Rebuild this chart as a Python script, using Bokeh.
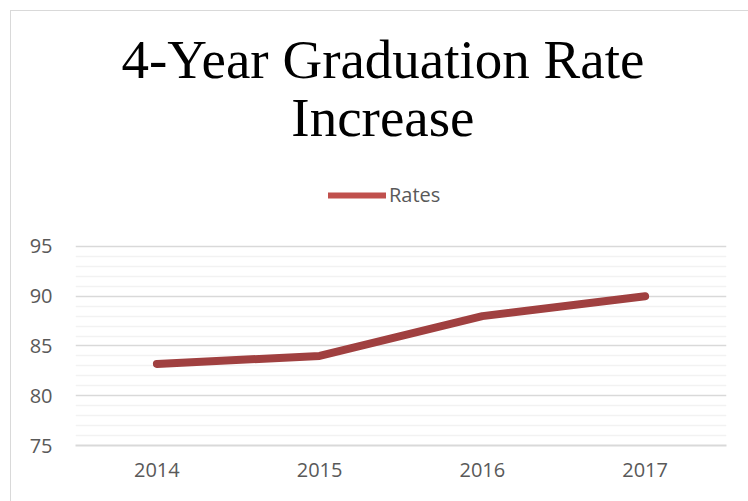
from bokeh.plotting import figure
from bokeh.models import (FactorRange, Range1d, FixedTicker, Legend,
                          LegendItem, Label)
from bokeh.embed import file_html
from bokeh.resources import INLINE

years = ["2014", "2015", "2016", "2017"]
rates = [83.2, 84.0, 88.0, 90.0]
y_ticks = [75, 80, 85, 90, 95]
y_minor = [76, 77, 78, 79, 81, 82, 83, 84, 86, 87, 88, 89, 91, 92, 93, 94]
title_line1 = "4-Year Graduation Rate"
title_line2 = "Increase"
series_name = "Rates"

# the frame extends above the 75-95 value band to hold title and legend
Y_TOP_VIEW = 119.72
TITLE_X = 1.889

p = figure(width=748, height=501, x_range=FactorRange(*years),
           y_range=Range1d(y_ticks[0], Y_TOP_VIEW),
           output_backend="svg", toolbar_location=None,
           min_border_left=75, min_border_right=22, min_border_bottom=56,
           min_border_top=0)
p.title = None
p.outline_line_color = None
p.background_fill_alpha = 0
p.border_fill_alpha = 0
p.styles = {"background": "linear-gradient(#d9d9d9,#d9d9d9) 10px 10px / 1px 100% no-repeat, "
                          "linear-gradient(#d9d9d9,#d9d9d9) 10px 10px / 100% 1px no-repeat, #ffffff"}

# legend swatch colour (lighter) drawn under the main series line
swatch = p.line(x=years, y=rates, line_color="#C0504D", line_width=6, line_cap="round")
main = p.line(x=years, y=rates, line_color="#A04040", line_width=8,
              line_cap="round", line_join="round")

# axes
p.yaxis.ticker = FixedTicker(ticks=y_ticks, minor_ticks=y_minor)
p.yaxis.bounds = (y_ticks[0], y_ticks[-1])
p.yaxis.axis_line_color = None
for ax in (p.xaxis, p.yaxis):
    ax.major_tick_line_color = None
    ax.minor_tick_line_color = None
    ax.major_tick_out = 0
    ax.major_tick_in = 0
    ax.minor_tick_out = 0
    ax.minor_tick_in = 0
    ax.major_label_text_font = "Open Sans"
    ax.major_label_text_font_size = "20px"
    ax.major_label_text_color = "#595959"
p.yaxis.major_label_standoff = 23
p.xaxis.axis_line_color = "#d9d9d9"
p.xaxis.axis_line_width = 2
p.xaxis.major_label_standoff = 17

p.xgrid.grid_line_color = None
p.ygrid.bounds = (y_ticks[0], y_ticks[-1])
p.ygrid.grid_line_color = "#d9d9d9"
p.ygrid.grid_line_width = 1.5
p.ygrid.minor_grid_line_color = "#f2f2f2"
p.ygrid.minor_grid_line_width = 1.5

legend = Legend(items=[LegendItem(label=series_name, renderers=[swatch])],
                location=(253, 237), orientation="horizontal",
                glyph_width=58, glyph_height=20, label_standoff=3,
                padding=0, margin=0, border_line_color=None,
                background_fill_alpha=0,
                label_text_font="Open Sans", label_text_font_size="20px",
                label_text_color="#595959")
p.add_layout(legend, "center")

for txt, ybase in ((title_line1, 113.8), (title_line2, 108.0)):
    p.add_layout(Label(x=TITLE_X, y=ybase, text=txt, text_align="center",
                       text_baseline="alphabetic", text_font="Liberation Serif",
                       text_font_size="55px", text_color="#000000"))

open("out.html", "w").write(file_html(p, INLINE))
